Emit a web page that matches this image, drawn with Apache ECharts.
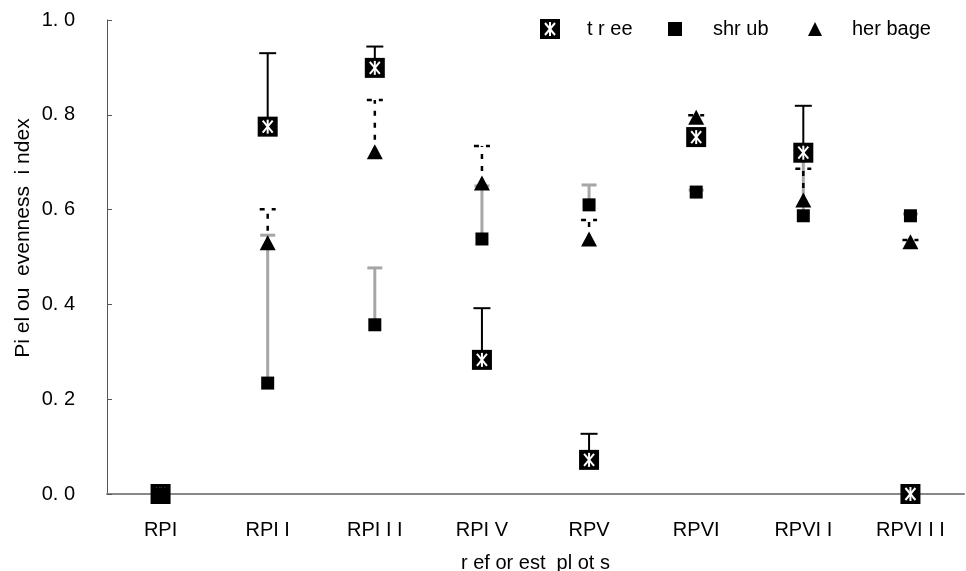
<!DOCTYPE html>
<html><head><meta charset="utf-8">
<script src="https://cdn.jsdelivr.net/npm/echarts@6/dist/echarts.min.js"></script>
<style>html,body{margin:0;padding:0;background:#fff}#c{width:966px;height:571px}</style>
</head><body><div id="c"></div>
<script>
const categories = ['RPI', 'RPI I', 'RPI I I', 'RPI V', 'RPV', 'RPVI', 'RPVI I', 'RPVI I I'];
const treeVals = [0, 0.775, 0.899, 0.283, 0.072, 0.753, 0.720, 0];
const treeSD   = [0, 0.155, 0.045, 0.109, 0.055, 0.002, 0.099, 0];
const shrubVals = [0, 0.234, 0.357, 0.538, 0.610, 0.637, 0.587, 0.587];
const shrubSD   = [0, 0.312, 0.120, 0.112, 0.042, 0.004, 0.133, 0.004];
const herbVals = [0, 0.530, 0.722, 0.656, 0.538, 0.795, 0.620, 0.532];
const herbSD   = [0, 0.071, 0.109, 0.078, 0.040, 0.004, 0.066, 0.004];
const yTicks = [0, 0.2, 0.4, 0.6, 0.8, 1.0];
const seriesNames = ['t r ee', 'shr ub', 'her bage'];
const yName = 'Pi el ou  evenness  i ndex';
const xName = 'r ef or est  pl ot s';

const FONT = 'Liberation Sans, Arial, sans-serif';
const chart = echarts.init(document.getElementById('c'), null, {renderer: 'canvas'});

function errData(vals, sds) { return vals.map((v, i) => [i, v, sds[i]]); }
function errRender(style, capW) {
  return function (params, api) {
    const top = api.coord([api.value(0), api.value(1) + api.value(2)]);
    const base = api.coord([api.value(0), api.value(1)]);
    return {type: 'group', children: [
      {type: 'line', shape: {x1: base[0], y1: base[1], x2: top[0], y2: top[1]}, style: style},
      {type: 'line', shape: {x1: top[0] - capW / 2, y1: top[1], x2: top[0] + capW / 2, y2: top[1]}, style: style}
    ]};
  };
}
function treeRender(params, api) {
  const p = api.coord([api.value(0), api.value(1)]);
  const x = p[0], y = p[1];
  const st = {stroke: '#fff', lineWidth: 2};
  return {type: 'group', children: [
    {type: 'rect', shape: {x: x - 10, y: y - 10, width: 20, height: 20}, style: {fill: '#000'}},
    {type: 'line', shape: {x1: x, y1: y - 7, x2: x, y2: y + 7}, style: st},
    {type: 'line', shape: {x1: x - 5, y1: y - 6, x2: x + 5, y2: y + 6}, style: st},
    {type: 'line', shape: {x1: x + 5, y1: y - 6, x2: x - 5, y2: y + 6}, style: st}
  ]};
}
function svgIcon(inner) {
  return 'image://data:image/svg+xml;charset=utf-8,' + encodeURIComponent(
    '<svg xmlns="http://www.w3.org/2000/svg" width="20" height="20" viewBox="0 0 20 20">' + inner + '</svg>');
}
const treeIcon = svgIcon('<rect x="0" y="0" width="20" height="20" fill="#000"/><g stroke="#fff" stroke-width="2"><line x1="10" y1="3" x2="10" y2="17"/><line x1="5" y1="4" x2="15" y2="16"/><line x1="15" y1="4" x2="5" y2="16"/></g>');
const shrubIcon = svgIcon('<rect x="3" y="3" width="14" height="14" fill="#000"/>');
const herbIcon = svgIcon('<polygon points="10,3 17,17 3,17" fill="#000"/>');

function legendAt(left, name, icon, pad) {
  return {left: left, top: 14, itemWidth: 20, itemHeight: 20, data: [{name: name, icon: icon}],
    textStyle: {fontFamily: FONT, fontSize: 20, color: '#000', padding: [0, 0, 0, pad]}, selectedMode: false};
}

chart.setOption({
  animation: false,
  grid: {left: 107, right: 2, top: 20, bottom: 77, containLabel: false, outerBoundsMode: 'none'},
  legend: [legendAt(535, seriesNames[0], treeIcon, 22), legendAt(660, seriesNames[1], shrubIcon, 23), legendAt(800, seriesNames[2], herbIcon, 22)],
  xAxis: {
    type: 'category', data: categories, boundaryGap: true,
    name: xName, nameLocation: 'middle', nameGap: 59,
    nameTextStyle: {fontFamily: FONT, fontSize: 20, color: '#000'},
    axisLine: {lineStyle: {color: '#888', width: 2}},
    axisTick: {inside: true, length: 5, lineStyle: {color: '#444', width: 1}},
    axisLabel: {fontFamily: FONT, fontSize: 20, color: '#000', margin: 26}
  },
  yAxis: {
    type: 'value', min: 0, max: 1, interval: 0.2,
    axisLine: {show: true, lineStyle: {color: '#555', width: 1}},
    axisTick: {show: true, inside: true, length: 5, lineStyle: {color: '#555'}},
    splitLine: {show: false},
    axisLabel: {fontFamily: FONT, fontSize: 20, color: '#000', margin: 32,
      formatter: v => yTicks.indexOf(Math.round(v * 10) / 10) >= 0 ? v.toFixed(1).replace('.', '. ') : ''}
  },
  graphic: [{type: 'text', x: 23, y: 238, rotation: Math.PI / 2,
    style: {text: yName, fontFamily: FONT, fontSize: 21, fill: '#000', align: 'center', verticalAlign: 'middle'}}],
  series: [
    {type: 'custom', name: 'shrub-err', data: errData(shrubVals, shrubSD), z: 1,
      renderItem: errRender({stroke: '#a6a6a6', lineWidth: 3}, 15)},
    {type: 'custom', name: 'herb-err', data: errData(herbVals, herbSD), z: 2,
      renderItem: errRender({stroke: '#000', lineWidth: 2.5, lineDash: [5, 7]}, 16)},
    {type: 'custom', name: 'tree-err', data: errData(treeVals, treeSD), z: 3,
      renderItem: errRender({stroke: '#000', lineWidth: 2}, 17)},
    {type: 'custom', name: seriesNames[0], data: treeVals.map((v, i) => [i, v]), z: 4, renderItem: treeRender},
    {type: 'scatter', name: seriesNames[1], data: shrubVals.map((v, i) => [i, v]), z: 5,
      symbol: 'rect', symbolSize: 13, itemStyle: {color: '#000', opacity: 1}},
    {type: 'scatter', name: seriesNames[2], data: herbVals.map((v, i) => [i, v]), z: 6,
      symbol: 'triangle', symbolSize: [16, 15], itemStyle: {color: '#000', opacity: 1}}
  ]
});
</script></body></html>
